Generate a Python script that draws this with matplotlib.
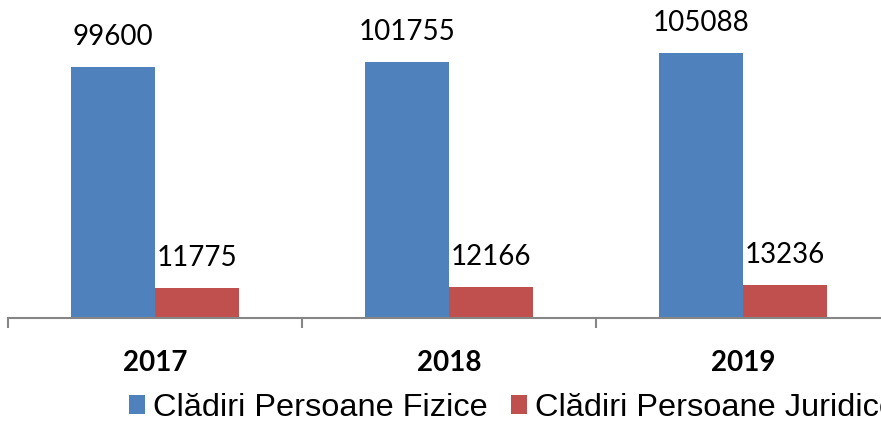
import matplotlib.pyplot as plt
import numpy as np

years = ["2017", "2018", "2019"]
fizice = [99600, 101755, 105088]
juridice = [11775, 12166, 13236]
series_names = ["Clădiri Persoane Fizice", "Clădiri Persoane Juridice"]
colors = ["#4F81BD", "#C0504D"]

W, H = 881, 421
fig = plt.figure(figsize=(W / 100, H / 100), dpi=100)
# axes runs past the right edge, like the original crop
ax = fig.add_axes([8 / W, (H - 318) / H, 882 / W, 318 / H])

x = np.arange(len(years))
bw = 84 / 294
b1 = ax.bar(x - bw / 2, fizice, bw, color=colors[0], label=series_names[0])
b2 = ax.bar(x + bw / 2, juridice, bw, color=colors[1], label=series_names[1])

for bars, vals in ((b1, fizice), (b2, juridice)):
    for r, v in zip(bars, vals):
        ax.annotate(str(v), (r.get_x() + r.get_width() / 2, v),
                    xytext=(0, 21.5), textcoords="offset points",
                    ha="center", va="center", fontsize=20, family="Lato")

ax.set_xlim(-0.5, 2.5)
ax.set_ylim(0, 318 / 0.00252)
ax.set_yticks([])
for s in ("left", "top", "right"):
    ax.spines[s].set_visible(False)
ax.spines["bottom"].set_color("#868686")
ax.spines["bottom"].set_linewidth(1.5)

ax.set_xticks(x)
ax.set_xticklabels(years, fontsize=20, fontweight="bold", family="Lato")
ax.tick_params(axis="x", which="major", length=0, pad=23)
ax.set_xticks([-0.5, 0.5, 1.5, 2.5], minor=True)
ax.tick_params(axis="x", which="minor", length=7, width=1.5, color="#868686")

fig.legend(loc="center left", bbox_to_anchor=(129 / W, 1 - 408 / H), ncol=2,
           frameon=False, prop={"family": "Liberation Sans", "size": 23.4},
           handlelength=0.5, handleheight=0.5, handletextpad=0.25,
           columnspacing=0.7, borderpad=0, borderaxespad=0)

fig.savefig("out.png", dpi=100)
